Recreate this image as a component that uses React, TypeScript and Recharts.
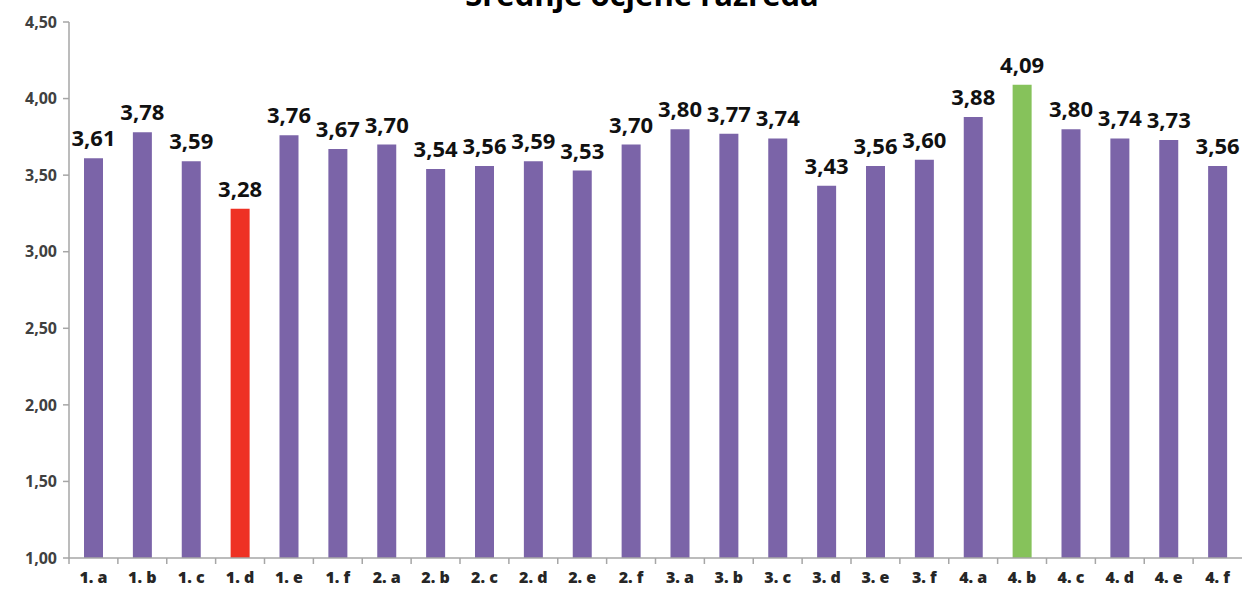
import React from "react";
import { BarChart, Bar, XAxis, YAxis, Cell, LabelList } from "recharts";

const categories = ["1. a","1. b","1. c","1. d","1. e","1. f","2. a","2. b","2. c","2. d","2. e","2. f","3. a","3. b","3. c","3. d","3. e","3. f","4. a","4. b","4. c","4. d","4. e","4. f"];
const averages = [3.61,3.78,3.59,3.28,3.76,3.67,3.70,3.54,3.56,3.59,3.53,3.70,3.80,3.77,3.74,3.43,3.56,3.60,3.88,4.09,3.80,3.74,3.73,3.56];
const yTicks = [1, 1.5, 2, 2.5, 3, 3.5, 4, 4.5];
const title = "Srednje ocjene razreda";

const data = categories.map((c, i) => ({ name: c, value: averages[i] }));
const minIdx = averages.indexOf(Math.min(...averages));
const maxIdx = averages.indexOf(Math.max(...averages));

const W = 1246, H = 595;
const FONT = "'Open Sans', 'Noto Sans', sans-serif";
const fmt = (v: number) => v.toFixed(2).replace(".", ",");

const XTick = (props: any) => {
  const { x, y, payload } = props;
  const half = (payload && payload.offset) || 24.4;
  return (
    <g>
      <line x1={x - half} x2={x - half} y1={y - 8} y2={y - 2} stroke="#A6A6A6" strokeWidth={1.5} />
      <text x={x} y={y + 17} textAnchor="middle" fontFamily={FONT} fontWeight={800} fontSize={16} fill="#262626">{payload.value}</text>
    </g>
  );
};

export default function App() {
  return (
    <div style={{ position: "absolute", left: 0, top: 0, width: W, height: H, background: "#fff" }}>
      <BarChart width={W} height={H} data={data} margin={{ top: 22, right: 4, bottom: 7, left: 0 }} barCategoryGap="30%">
        <text x={642} y={6} textAnchor="middle" fontFamily={FONT} fontWeight={700} fontSize={31} fill="#000">{title}</text>
        <XAxis dataKey="name" height={30} tickLine={false} axisLine={{ stroke: "#A6A6A6", strokeWidth: 1.5 }} tick={<XTick />} interval={0} />
        <YAxis width={69} domain={[1, 4.5]} ticks={yTicks} allowDataOverflow tickFormatter={fmt}
          axisLine={{ stroke: "#A6A6A6", strokeWidth: 1.5 }} tickLine={{ stroke: "#A6A6A6", strokeWidth: 1.5 }} tickSize={6} tickMargin={6}
          tick={{ fontFamily: FONT, fontWeight: 700, fontSize: 16, fill: "#404040" }} />
        <Bar dataKey="value" barSize={19} isAnimationActive={false}>
          {data.map((d, i) => (
            <Cell key={d.name} fill={i === minIdx ? "#EE3124" : i === maxIdx ? "#86C25B" : "#7B64A8"} />
          ))}
          <LabelList dataKey="value" position="top" offset={12} formatter={(v: any) => fmt(Number(v))}
            style={{ fontFamily: FONT, fontWeight: 700, fontSize: 22, fill: "#111" }} />
        </Bar>
      </BarChart>
    </div>
  );
}
